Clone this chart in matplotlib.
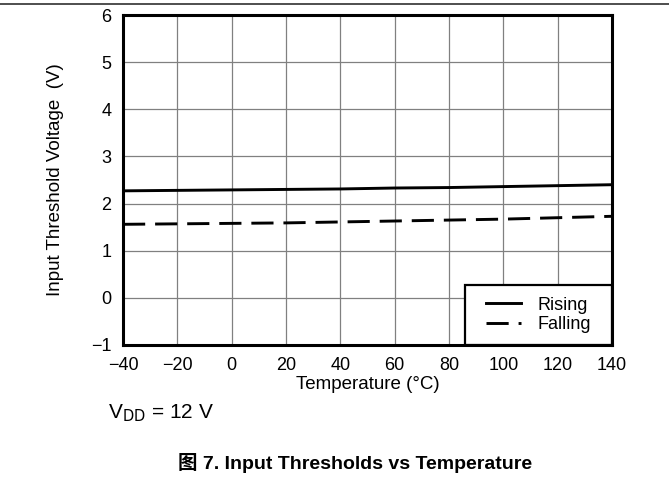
import numpy as np
import matplotlib.pyplot as plt
from matplotlib.lines import Line2D
from matplotlib.patches import Rectangle

plt.rcParams['font.family'] = ['Liberation Sans', 'Noto Sans CJK SC', 'DejaVu Sans']
plt.rcParams['axes.unicode_minus'] = True

# Threshold voltages vs temperature (VDD = 12 V)
temperature = [-40, -20, 0, 20, 40, 60, 80, 100, 120, 140]
rising = [2.27, 2.28, 2.29, 2.30, 2.31, 2.33, 2.34, 2.36, 2.38, 2.40]
falling = [1.56, 1.57, 1.58, 1.59, 1.61, 1.63, 1.65, 1.67, 1.70, 1.73]

x_ticks = list(range(-40, 141, 20))
y_ticks = list(range(-1, 7))

fig = plt.figure(figsize=(6.69, 4.84), dpi=100)
ax = fig.add_axes([0.1839, 0.2872, 0.7309, 0.6818])

ax.plot(temperature, rising, color='black', lw=2.1, label='Rising')
ax.plot(temperature, falling, color='black', lw=2.1, dashes=(7.6, 3.4), label='Falling')

ax.set_xlim(-40, 140)
ax.set_ylim(-1, 6)
ax.set_xticks(x_ticks)
ax.set_yticks(y_ticks)
ax.set_xticklabels([str(t).replace('-', '\u2212') for t in x_ticks])
ax.set_yticklabels([str(t).replace('-', '\u2212') for t in y_ticks])
ax.grid(True, color='#808080', lw=0.9)
ax.tick_params(length=0, labelsize=13, pad=8.5)
for s in ax.spines.values():
    s.set_linewidth(2.2)
    s.set_zorder(5)

ax.set_xlabel('Temperature (°C)', fontsize=13.5)
ax.set_ylabel('Input Threshold Voltage  (V)', fontsize=13.5)
ax.xaxis.set_label_coords(0.5, -0.121)
ax.xaxis.label.set_verticalalignment('center')
ax.yaxis.set_label_coords(-0.139, 0.5)
ax.yaxis.label.set_verticalalignment('center')

# legend box in the lower right corner, content centred inside it
box = (0.699, 0.0, 0.301, 0.182)
ax.add_patch(Rectangle(box[:2], box[2], box[3], transform=ax.transAxes,
                       facecolor='white', edgecolor='black', lw=1.6, zorder=4))
leg = ax.legend(loc='center', bbox_to_anchor=box, fontsize=13, frameon=False,
                handlelength=1.95, handletextpad=0.9, borderpad=0.2,
                labelspacing=0.15)
leg.set_zorder(6)

fig.text(0.1614, 0.1467, r'V$_{\mathrm{DD}}$ = 12 V', fontsize=15, ha='left', va='center')
fig.text(0.53, 0.0434, '图 7. Input Thresholds vs Temperature', fontsize=14,
         fontweight='bold', ha='center', va='center')

fig.add_artist(Line2D([0, 1], [0.9917, 0.9917], color='#303030', lw=1.2,
                      transform=fig.transFigure))

fig.savefig('out.png', dpi=100)
